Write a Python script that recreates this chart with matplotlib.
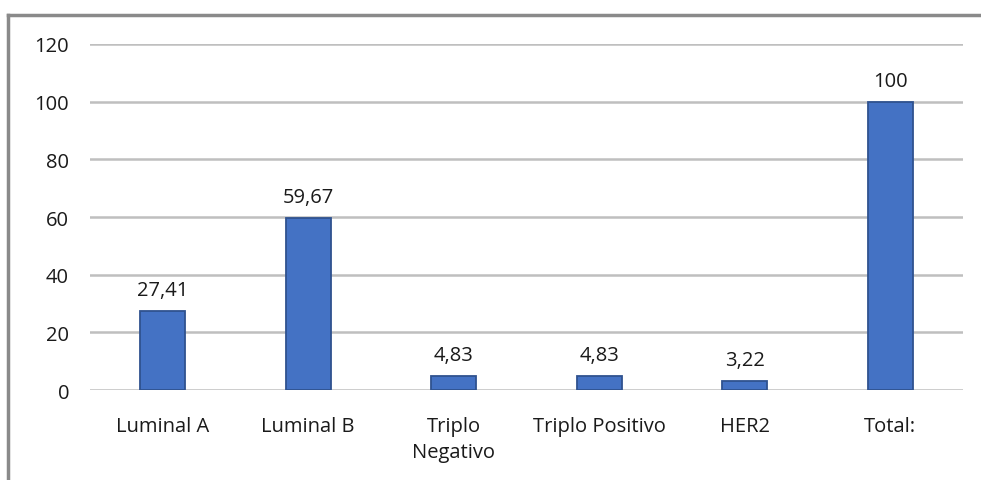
import matplotlib.pyplot as plt
from matplotlib.lines import Line2D

categorias = ['Luminal A', 'Luminal B', 'Triplo\nNegativo', 'Triplo Positivo', 'HER2', 'Total:']
valores = [27.41, 59.67, 4.83, 4.83, 3.22, 100]
rotulos = ['27,41', '59,67', '4,83', '4,83', '3,22', '100']
yticks = [0, 20, 40, 60, 80, 100, 120]

plt.rcParams['font.family'] = ['Open Sans', 'DejaVu Sans']

fig = plt.figure(figsize=(9.81, 4.81), dpi=100)
ax = fig.add_axes([0.0917, 0.187, 0.89, 0.7195])

x = range(len(categorias))
bars = ax.bar(x, valores, width=0.31, color='#4472C4', edgecolor='#2F528F',
              linewidth=1.3, zorder=3)

for b, txt in zip(bars, rotulos):
    ax.annotate(txt, (b.get_x() + b.get_width() / 2, b.get_height()),
                xytext=(0, 8), textcoords='offset points',
                ha='center', va='bottom', fontsize=14.5, color='#1a1a1a')

ax.set_xlim(-0.5, len(categorias) - 0.5)
ax.set_ylim(0, 120)
ax.set_yticks(yticks)
ax.set_xticks(list(x))
ax.set_xticklabels(categorias, fontsize=14.5, color='#1a1a1a', linespacing=1.4)
ax.tick_params(axis='y', length=0, pad=15, labelsize=14.5, labelcolor='#1a1a1a')
ax.tick_params(axis='x', length=0, pad=19)
ax.grid(axis='y', color='#bfbfbf', linewidth=1.8, zorder=0)
for s in ax.spines.values():
    s.set_visible(False)

# moldura cinza (topo e esquerda)
fig.add_artist(Line2D([8 / 981, 1], [1 - 16 / 481] * 2, color='#8a8a8a', linewidth=2.5,
                      transform=fig.transFigure))
fig.add_artist(Line2D([8 / 981] * 2, [0, 1 - 16 / 481], color='#8a8a8a', linewidth=2.5,
                      transform=fig.transFigure))

fig.savefig('out.png', dpi=100)
